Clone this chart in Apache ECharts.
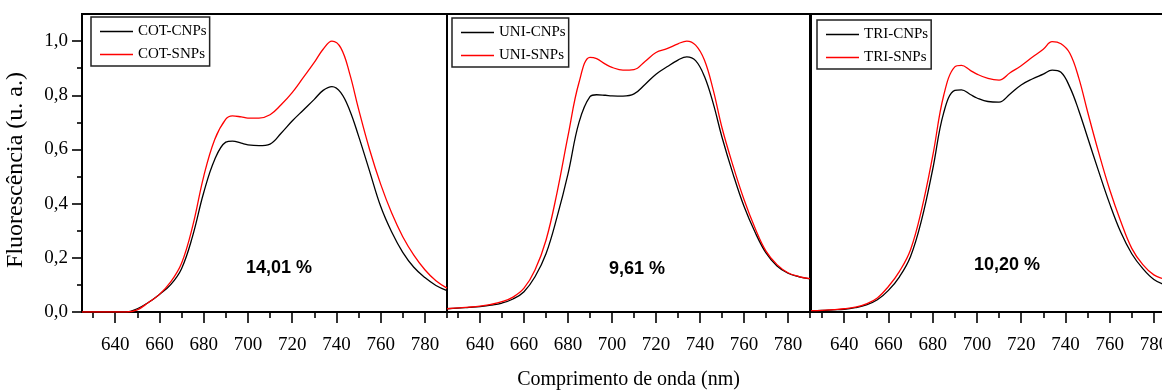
<!DOCTYPE html>
<html>
<head>
<meta charset="utf-8">
<script src="https://cdn.jsdelivr.net/npm/echarts@6/dist/echarts.min.js"></script>
<style>
  html, body { margin: 0; padding: 0; background: #fff; }
  #chart { width: 1162px; height: 390px; }
</style>
</head>
<body>
<div id="chart"></div>
<script>
// wavelength (nm) shared by all spectra
const wavelengths = [625, 630, 635, 640, 645, 650, 655, 660, 665, 670, 675, 680, 685, 690, 693, 697,
  700, 705, 710, 715, 720, 725, 730, 734, 738, 742, 746, 750, 755, 760, 765, 770, 775, 780, 785, 790];

const cotCNPs = [0, 0, 0, 0, 0, 0.012, 0.035, 0.065, 0.1, 0.16, 0.28, 0.44, 0.563, 0.627, 0.631, 0.623,
  0.617, 0.614, 0.62, 0.66, 0.705, 0.745, 0.785, 0.818, 0.832, 0.81, 0.745, 0.65, 0.52, 0.39, 0.295, 0.22, 0.165, 0.127, 0.098, 0.079];
const cotSNPs = [0, 0, 0, 0, 0, 0.008, 0.035, 0.065, 0.11, 0.18, 0.316, 0.5, 0.637, 0.712, 0.724, 0.72,
  0.716, 0.716, 0.728, 0.765, 0.81, 0.865, 0.921, 0.97, 1.0, 0.975, 0.88, 0.75, 0.6, 0.472, 0.365, 0.278, 0.21, 0.156, 0.115, 0.088];

const uniCNPs = [0.012, 0.014, 0.017, 0.02, 0.025, 0.033, 0.048, 0.075, 0.13, 0.215, 0.35, 0.51, 0.7, 0.795, 0.802, 0.8,
  0.798, 0.797, 0.805, 0.84, 0.878, 0.905, 0.93, 0.942, 0.928, 0.87, 0.77, 0.645, 0.51, 0.39, 0.295, 0.218, 0.17, 0.143, 0.13, 0.122];
const uniSNPs = [0.012, 0.015, 0.018, 0.022, 0.028, 0.038, 0.055, 0.088, 0.155, 0.265, 0.44, 0.65, 0.847, 0.94, 0.935, 0.915,
  0.903, 0.893, 0.895, 0.925, 0.958, 0.972, 0.99, 1.0, 0.985, 0.93, 0.82, 0.68, 0.54, 0.415, 0.31, 0.225, 0.175, 0.145, 0.131, 0.123];

const triCNPs = [0.005, 0.006, 0.008, 0.01, 0.016, 0.026, 0.045, 0.08, 0.13, 0.205, 0.34, 0.526, 0.736, 0.818, 0.82, 0.803,
  0.79, 0.777, 0.775, 0.805, 0.838, 0.86, 0.878, 0.893, 0.885, 0.83, 0.745, 0.645, 0.52, 0.4, 0.295, 0.215, 0.16, 0.12, 0.1, 0.085];
const triSNPs = [0.005, 0.006, 0.009, 0.012, 0.018, 0.03, 0.052, 0.094, 0.15, 0.23, 0.378, 0.575, 0.8, 0.905, 0.91, 0.892,
  0.878, 0.862, 0.856, 0.883, 0.909, 0.94, 0.97, 0.998, 0.99, 0.955, 0.865, 0.74, 0.59, 0.452, 0.335, 0.235, 0.175, 0.137, 0.12, 0.1];

const seriesNames = [['COT-CNPs', 'COT-SNPs'], ['UNI-CNPs', 'UNI-SNPs'], ['TRI-CNPs', 'TRI-SNPs']];
const seriesValues = [[cotCNPs, cotSNPs], [uniCNPs, uniSNPs], [triCNPs, triSNPs]];
const ratioLabels = ['14,01 %', '9,61 %', '10,20 %'];

const xMajorTicks = [640, 660, 680, 700, 720, 740, 760, 780];
const xMinorTicks = [630, 650, 670, 690, 710, 730, 750, 770, 790];
const yMajorTicks = [0, 0.2, 0.4, 0.6, 0.8, 1.0];
const yMinorTicks = [0.1, 0.3, 0.5, 0.7, 0.9];

// layout of the three side-by-side panels
const panelLayout = [
  { left: 82, width: 365, legendLeft: 91, legendTop: 17, ratioX: 279, ratioY: 268 },
  { left: 447, width: 363, legendLeft: 452, legendTop: 18, ratioX: 637, ratioY: 269 },
  { left: 811, width: 365, legendLeft: 817, legendTop: 20, ratioX: 1007, ratioY: 265 },
];
const colors = ['#000000', '#ff0000'];
const serif = '"Liberation Serif", "Times New Roman", serif';

const chart = echarts.init(document.getElementById('chart'), null, { renderer: 'canvas' });

const grids = [];
const xAxes = [];
const yAxes = [];
const legends = [];
const series = [];
const graphics = [];

panelLayout.forEach((p, i) => {
  grids.push({
    left: p.left, top: 14, width: p.width, height: 298,
    outerBoundsMode: 'none', containLabel: false,
    show: true, borderColor: '#000', borderWidth: 2, backgroundColor: 'transparent',
  });

  // main x axis: line, major ticks, labels
  xAxes.push({
    type: 'value', gridIndex: i, position: 'bottom', min: 625, max: 790,
    axisLine: { show: true, lineStyle: { color: '#000', width: 2 } },
    axisTick: { show: true, length: 11, customValues: xMajorTicks, lineStyle: { color: '#000', width: 1.6 } },
    axisLabel: { show: true, customValues: xMajorTicks, margin: 24, color: '#000', fontFamily: serif, fontSize: 19 },
    splitLine: { show: false },
    name: i === 1 ? 'Comprimento de onda (nm)' : '',
    nameLocation: 'middle', nameGap: 58,
    nameTextStyle: { color: '#000', fontFamily: serif, fontSize: 20 },
  });
  // minor x ticks
  xAxes.push({
    type: 'value', gridIndex: i, position: 'bottom', min: 625, max: 790,
    axisLine: { show: false },
    axisTick: { show: true, length: 6, customValues: xMinorTicks, lineStyle: { color: '#000', width: 1.6 } },
    axisLabel: { show: false },
    splitLine: { show: false },
  });

  const yMainIndex = yAxes.length;
  if (i === 0) {
    yAxes.push({
      type: 'value', gridIndex: i, position: 'left', min: 0, max: 1.1,
      axisLine: { show: true, lineStyle: { color: '#000', width: 2 } },
      axisTick: { show: true, length: 10, customValues: yMajorTicks, lineStyle: { color: '#000', width: 1.6 } },
      axisLabel: {
        show: true, customValues: yMajorTicks, margin: 14, color: '#000', fontFamily: serif, fontSize: 19,
        formatter: (v) => v.toFixed(1).replace('.', ','),
      },
      splitLine: { show: false },
      name: 'Fluorescência (u. a.)', nameLocation: 'middle', nameGap: 54, nameRotate: 90,
      nameTextStyle: { color: '#000', fontFamily: serif, fontSize: 24, padding: [0, 14, 0, 0] },
    });
    yAxes.push({
      type: 'value', gridIndex: i, position: 'left', min: 0, max: 1.1,
      axisLine: { show: false },
      axisTick: { show: true, length: 5, customValues: yMinorTicks, lineStyle: { color: '#000', width: 1.6 } },
      axisLabel: { show: false },
      splitLine: { show: false },
    });
  } else {
    yAxes.push({
      type: 'value', gridIndex: i, position: 'left', min: 0, max: 1.1,
      axisLine: { show: true, lineStyle: { color: '#000', width: 2 } },
      axisTick: { show: false }, axisLabel: { show: false }, splitLine: { show: false },
    });
  }

  legends.push({
    data: seriesNames[i], left: p.legendLeft, top: p.legendTop, orient: 'vertical',
    icon: 'rect', itemWidth: 33, itemHeight: 1.3, itemGap: 8,
    padding: [7, 3, 4, 9], borderColor: '#222', borderWidth: 1.5, borderRadius: 0,
    selectedMode: false,
    textStyle: { color: '#000', fontFamily: serif, fontSize: 15, lineHeight: 15 },
  });

  seriesNames[i].forEach((name, k) => {
    series.push({
      name, type: 'line', xAxisIndex: 2 * i, yAxisIndex: yMainIndex,
      data: wavelengths.map((w, j) => [w, seriesValues[i][k][j]]),
      smooth: 0.4, symbol: 'none', silent: true,
      lineStyle: { color: colors[k], width: 1.3 },
      itemStyle: { color: colors[k] },
      z: 3 + k,
    });
  });

  graphics.push({
    type: 'text', x: p.ratioX, y: p.ratioY, z: 10,
    style: {
      text: ratioLabels[i], fill: '#000',
      font: 'bold 18px "Liberation Sans", Arial, sans-serif',
      align: 'center', verticalAlign: 'middle',
      textAlign: 'center', textVerticalAlign: 'middle',
    },
  });
});

chart.setOption({
  animation: false,
  backgroundColor: '#fff',
  grid: grids,
  xAxis: xAxes,
  yAxis: yAxes,
  legend: legends,
  series,
  graphic: graphics,
});
</script>
</body>
</html>
